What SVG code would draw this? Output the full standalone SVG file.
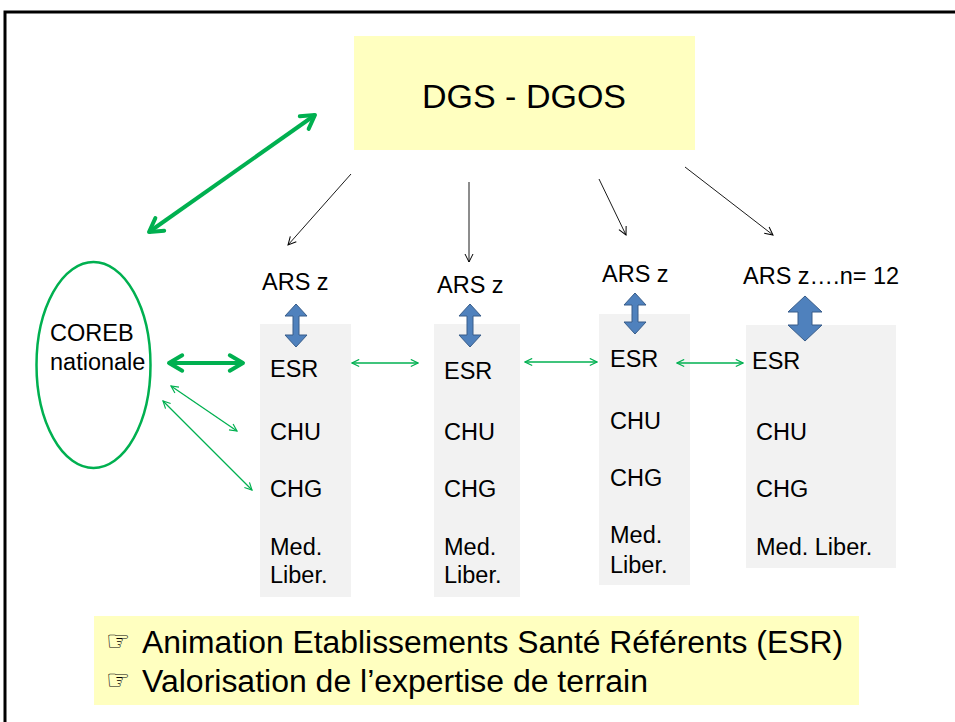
<svg xmlns="http://www.w3.org/2000/svg" width="955" height="722" viewBox="0 0 955 722">
<style>
text{font-family:"Liberation Sans",Arial,sans-serif;fill:#000}
.t{font-size:23.5px}
.col{fill:#F2F2F2}
.blue{fill:#4F81BD;stroke:#385D8A;stroke-width:1}
.gth{stroke:#00B050;stroke-width:1.3;fill:none}
.gtk{stroke:#00B050;stroke-width:4;fill:none}
.blk{stroke:#000;stroke-width:0.9;fill:none}
.hand{font-family:"DejaVu Sans",sans-serif;font-size:27px}
.note{font-size:31px}
</style>
<defs>
<marker id="ga" viewBox="0 0 10 10" refX="9" refY="5" markerWidth="9" markerHeight="9" markerUnits="userSpaceOnUse" orient="auto-start-reverse"><path d="M1,1 L9,5 L1,9" fill="none" stroke="#00B050" stroke-width="1.3"/></marker>
<marker id="gb" viewBox="0 0 10 10" refX="8" refY="5" markerWidth="22" markerHeight="22" markerUnits="userSpaceOnUse" orient="auto-start-reverse"><path d="M2,1.5 L8,5 L2,8.5" fill="none" stroke="#00B050" stroke-width="1.8" stroke-linecap="round" stroke-linejoin="round"/></marker>
<marker id="ba" viewBox="0 0 10 10" refX="9" refY="5" markerWidth="10" markerHeight="10" markerUnits="userSpaceOnUse" orient="auto"><path d="M1,1 L9,5 L1,9" fill="none" stroke="#000" stroke-width="1"/></marker>
</defs>
<rect width="955" height="722" fill="#fff"/>
<path d="M5,722 V12 H955" fill="none" stroke="#000" stroke-width="3"/>

<g id="dgs">
<rect x="354" y="36" width="341" height="114" fill="#FFFFC0"/>
<text x="524" y="108" font-size="34" text-anchor="middle">DGS - DGOS</text>
</g>

<g id="coreb">
<ellipse cx="93.5" cy="365" rx="57" ry="103" fill="none" stroke="#00B050" stroke-width="2.5"/>
<text class="t" x="50" y="341">COREB</text>
<text class="t" x="50" y="370">nationale</text>
</g>

<g id="col1">
<rect class="col" x="260" y="324" width="91" height="273"/>
<text class="t" x="262" y="290">ARS z</text>
<text class="t" x="270" y="377">ESR</text>
<text class="t" x="270" y="440">CHU</text>
<text class="t" x="270" y="497">CHG</text>
<text class="t" x="270" y="555">Med.</text>
<text class="t" x="270" y="583">Liber.</text>
<path class="blue" d="M296,304 L307,316 L299,316 L299,335 L307,335 L296,347 L285,335 L293,335 L293,316 L285,316 Z"/>
</g>

<g id="col2">
<rect class="col" x="434" y="324" width="86" height="273"/>
<text class="t" x="437" y="293">ARS z</text>
<text class="t" x="444" y="379">ESR</text>
<text class="t" x="444" y="440">CHU</text>
<text class="t" x="444" y="497">CHG</text>
<text class="t" x="444" y="555">Med.</text>
<text class="t" x="444" y="583">Liber.</text>
<path class="blue" d="M470,304 L481,316 L473,316 L473,335 L481,335 L470,347 L459,335 L467,335 L467,316 L459,316 Z"/>
</g>

<g id="col3">
<rect class="col" x="599" y="314" width="91" height="271"/>
<text class="t" x="602" y="282">ARS z</text>
<text class="t" x="610" y="367">ESR</text>
<text class="t" x="610" y="429">CHU</text>
<text class="t" x="610" y="486">CHG</text>
<text class="t" x="610" y="543">Med.</text>
<text class="t" x="610" y="573">Liber.</text>
<path class="blue" d="M635,293 L646,305 L638,305 L638,322 L646,322 L635,334 L624,322 L632,322 L632,305 L624,305 Z"/>
</g>

<g id="col4">
<rect class="col" x="746" y="325" width="150" height="243"/>
<text class="t" x="743" y="284">ARS z….n= 12</text>
<text class="t" x="752" y="369">ESR</text>
<text class="t" x="756" y="440">CHU</text>
<text class="t" x="756" y="497">CHG</text>
<text class="t" x="756" y="555">Med. Liber.</text>
<path class="blue" d="M805,296 L822,312 L812,312 L812,325 L822,325 L805,341 L788,325 L798,325 L798,312 L788,312 Z"/>
</g>

<g id="connectors">
<line class="gtk" x1="149" y1="232" x2="315" y2="115" marker-start="url(#gb)" marker-end="url(#gb)"/>
<line class="gtk" x1="169" y1="363" x2="243" y2="363" marker-start="url(#gb)" marker-end="url(#gb)"/>
<line class="gth" x1="171" y1="386" x2="237" y2="431" marker-start="url(#ga)" marker-end="url(#ga)"/>
<line class="gth" x1="163" y1="401" x2="252" y2="490" marker-start="url(#ga)" marker-end="url(#ga)"/>
<line class="gth" x1="352" y1="363" x2="418" y2="363" marker-start="url(#ga)" marker-end="url(#ga)"/>
<line class="gth" x1="525" y1="362" x2="597" y2="362" marker-start="url(#ga)" marker-end="url(#ga)"/>
<line class="gth" x1="677" y1="363" x2="743" y2="363" marker-start="url(#ga)" marker-end="url(#ga)"/>
<line class="blk" x1="351" y1="174" x2="288" y2="245" marker-end="url(#ba)"/>
<line class="blk" x1="469" y1="182" x2="469" y2="262" marker-end="url(#ba)"/>
<line class="blk" x1="599" y1="179" x2="626" y2="235" marker-end="url(#ba)"/>
<line class="blk" x1="685" y1="167" x2="773" y2="235" marker-end="url(#ba)"/>
</g>

<g id="note">
<rect x="94" y="616" width="765" height="89" fill="#FFFFC0"/>
<text class="hand" x="106" y="650">☞</text>
<text class="note" x="142" y="653" textLength="701" lengthAdjust="spacingAndGlyphs">Animation Etablissements Santé Référents (ESR)</text>
<text class="hand" x="106" y="689">☞</text>
<text class="note" x="142" y="692" textLength="506" lengthAdjust="spacingAndGlyphs">Valorisation de l’expertise de terrain</text>
</g>
</svg>
